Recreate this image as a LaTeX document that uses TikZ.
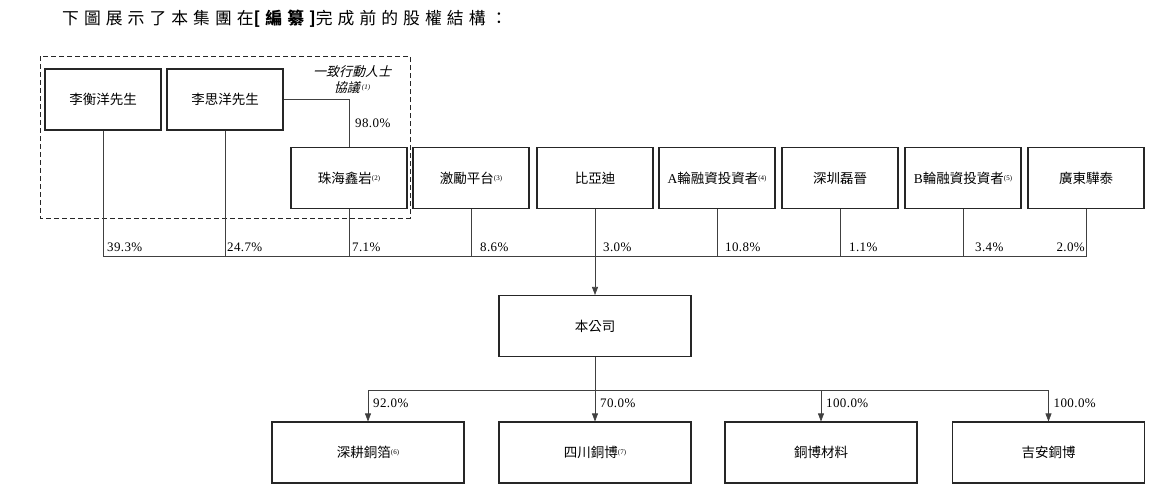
\documentclass[tikz,border=0pt]{standalone}
\usepackage{fontspec}
\setmainfont{Liberation Serif}
\newfontfamily\cjk{Noto Sans CJK TC}
\newfontfamily\cjkit{Noto Sans CJK TC}[FakeSlant=0.25]
\newfontfamily\cjktitle{Noto Sans CJK TC}[LetterSpace=30]
\usetikzlibrary{arrows.meta}
\newcommand\fnmark[1]{\raisebox{0.4ex}{\rmfamily\fontsize{7}{7}\selectfont(#1)}}

\begin{document}
\begin{tikzpicture}[x=1pt,y=-1pt,
    box/.style={draw=black!85,line width=1.1pt,minimum width=116pt,minimum height=61pt,
      inner sep=0pt,font=\fontsize{13.5}{15}\cjk},
    bigbox/.style={box,minimum width=192pt},
    link/.style={line width=0.6pt,draw=black!75},
    pct/.style={font=\fontsize{13}{14}\selectfont\addfontfeature{LetterSpace=3},inner sep=0pt},
    tip/.style={-{Triangle[length=8pt,width=6pt]}}]
    \useasboundingbox (0,0) rectangle (1160,490);
    \node[anchor=west,inner sep=0pt,font=\fontsize{16.8}{19}\cjktitle] (title) at (62,19)
      {下圖展示了本集團在{\bfseries[編纂]}完成前的股權結構：};
    % concert parties
    \draw[black!85,line width=1pt,dash pattern=on 5pt off 3pt] (40,56) rectangle (410,218);
    \node[box] (lhy) at (103,99.5) {李衡洋先生};
    \node[box] (lsy) at (225,99.5) {李思洋先生};
    \node[align=center,inner sep=0pt,font=\fontsize{13}{15.5}\cjkit] (agree) at (352,79.5)
      {一致行動人士\\協議\kern2pt{\itshape\fnmark{1}}};
    % shareholders
    \node[box] (zhxy) at (349,178) {珠海鑫岩\fnmark{2}};
    \node[box] (jlpt) at (471,178) {激勵平台\fnmark{3}};
    \node[box] (byd) at (595,178) {比亞迪};
    \node[box] (arz) at (717,178) {{\rmfamily A}輪融資投資者\fnmark{4}};
    \node[box] (szlj) at (840,178) {深圳磊晉};
    \node[box] (brz) at (963,178) {{\rmfamily B}輪融資投資者\fnmark{5}};
    \node[box] (gdyt) at (1086,178) {廣東驊泰};
    % company and subsidiaries
    \node[bigbox] (company) at (595,326) {本公司};
    \node[bigbox] (sgtb) at (368,452.5) {深耕銅箔\fnmark{6}};
    \node[bigbox] (sctb) at (595,452.5) {四川銅博\fnmark{7}};
    \node[bigbox] (tbcl) at (821,452.5) {銅博材料};
    \node[bigbox] (jatb) at (1048.5,452.5) {吉安銅博};

    \coordinate (bus) at (0,256);
    \coordinate (sub) at (0,390);
    \draw[link] (lsy.east) -| (zhxy.north);
    \node[pct,anchor=west] (p98) at (355,123) {98.0\%};
    \draw[link] (lhy.south) -- (lhy.south |- bus) -- (gdyt.south |- bus) -- (gdyt.south);
    \foreach \n in {lsy,zhxy,jlpt,arz,szlj,brz}
      \draw[link] (\n.south) -- (\n.south |- bus);
    \draw[link,tip] (byd.south) -- (company.north);
    \node[pct,anchor=west] (p1) at (107,247) {39.3\%};
    \node[pct,anchor=west] (p2) at (227,247) {24.7\%};
    \node[pct,anchor=west] (p3) at (352,247) {7.1\%};
    \node[pct,anchor=west] (p4) at (480,247) {8.6\%};
    \node[pct,anchor=west] (p5) at (603,247) {3.0\%};
    \node[pct,anchor=west] (p6) at (725,247) {10.8\%};
    \node[pct,anchor=west] (p7) at (849,247) {1.1\%};
    \node[pct,anchor=west] (p8) at (975,247) {3.4\%};
    \node[pct,anchor=east] (p9) at (1085,247) {2.0\%};

    \draw[link] (company.south) -- (company.south |- sub);
    \draw[link] (sgtb.north |- sub) -- (jatb.north |- sub);
    \foreach \n in {sgtb,sctb,tbcl,jatb}
      \draw[link,tip] (\n.north |- sub) -- (\n.north);
    \node[pct,anchor=west] (q1) at (373,403) {92.0\%};
    \node[pct,anchor=west] (q2) at (600,403) {70.0\%};
    \node[pct,anchor=west] (q3) at (826,403) {100.0\%};
    \node[pct,anchor=west] (q4) at (1053.5,403) {100.0\%};
  \end{tikzpicture}
\end{document}
